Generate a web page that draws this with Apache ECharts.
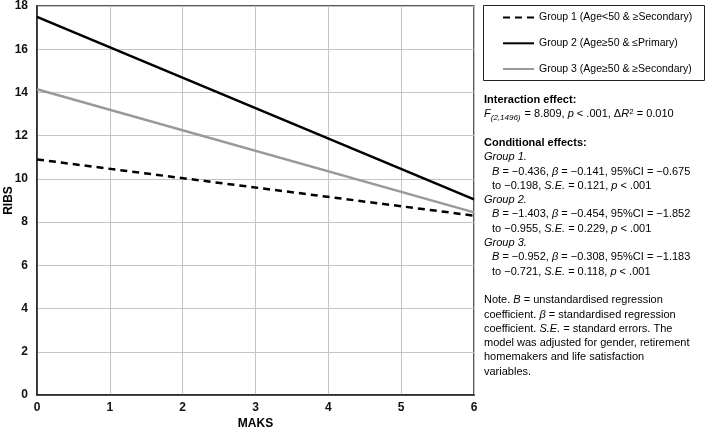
<!DOCTYPE html>
<html>
<head>
<meta charset="utf-8">
<script src="https://cdn.jsdelivr.net/npm/echarts@6/dist/echarts.min.js"></script>
<style>
html,body{margin:0;padding:0;background:#fff;}
#chart{width:709px;height:430px;}
</style>
</head>
<body>
<div id="chart"></div>
<script>
// ---- data ----
const xPoints = [0, 6];
const group1 = [10.9, 8.3];
const group2 = [17.5, 9.05];
const group3 = [14.15, 8.45];
const seriesNames = [
  'Group 1 (Age<50 & ≥Secondary)',
  'Group 2 (Age≥50 & ≤Primary)',
  'Group 3 (Age≥50 & ≥Secondary)'
];
const xTicks = [0, 1, 2, 3, 4, 5, 6];
const yTicks = [0, 2, 4, 6, 8, 10, 12, 14, 16, 18];
const xTitle = 'MAKS';
const yTitle = 'RIBS';
// annotation lines: [indent, richText]
const noteLines = [
  [0, '{b|Interaction effect:}'],
  [0, '{i|F}{sub|(2,1496)}{n| = 8.809, }{i|p}{n| < .001, Δ}{i|R}{sup|2}{n| = 0.010}'],
  null,
  [0, '{b|Conditional effects:}'],
  [0, '{i|Group 1.}'],
  [1, '{i|B}{n| = −0.436, }{i|β}{n| = −0.141, 95%CI = −0.675}'],
  [1, '{n|to −0.198, }{i|S.E.}{n| = 0.121, }{i|p}{n| < .001}'],
  [0, '{i|Group 2.}'],
  [1, '{i|B}{n| = −1.403, }{i|β}{n| = −0.454, 95%CI = −1.852}'],
  [1, '{n|to −0.955, }{i|S.E.}{n| = 0.229, }{i|p}{n| < .001}'],
  [0, '{i|Group 3.}'],
  [1, '{i|B}{n| = −0.952, }{i|β}{n| = −0.308, 95%CI = −1.183}'],
  [1, '{n|to −0.721, }{i|S.E.}{n| = 0.118, }{i|p}{n| < .001}'],
  null,
  [0, '{n|Note. }{i|B}{n| = unstandardised regression}'],
  [0, '{n|coefficient. }{i|β}{n| = standardised regression}'],
  [0, '{n|coefficient. }{i|S.E.}{n| = standard errors. The}'],
  [0, '{n|model was adjusted for gender, retirement}'],
  [0, '{n|homemakers and life satisfaction}'],
  [0, '{n|variables.}']
];

const FONT = '"Liberation Sans", Arial, sans-serif';
const chart = echarts.init(document.getElementById('chart'), null, {renderer: 'canvas'});

const FS = 11;
const rich = {
  n: {fontSize: FS, fontFamily: FONT, fill: '#000', lineHeight: 14, verticalAlign: 'middle'},
  i: {fontSize: FS, fontFamily: FONT, fill: '#000', fontStyle: 'italic', lineHeight: 14, verticalAlign: 'middle'},
  b: {fontSize: FS, fontFamily: FONT, fill: '#000', fontWeight: 'bold', lineHeight: 14, verticalAlign: 'middle'},
  sub: {fontSize: 8, fontFamily: FONT, fill: '#000', fontStyle: 'italic', lineHeight: 7, verticalAlign: 'bottom', padding: [0, 1, 0, 0]},
  sup: {fontSize: 8, fontFamily: FONT, fill: '#000', lineHeight: 8, verticalAlign: 'top'}
};

const graphics = [
  {type: 'rect', shape: {x: 483.5, y: 5.5, width: 221, height: 75},
   style: {fill: 'none', stroke: '#222', lineWidth: 1}, z: 1}
];
const L = 14.3;
noteLines.forEach((ln, k) => {
  if (!ln) return;
  graphics.push({
    type: 'text',
    x: 484 + ln[0] * 8,
    y: 100 + k * L,
    style: {text: ln[1], rich: rich, verticalAlign: 'middle', align: 'left',
            fontSize: FS, fontFamily: FONT, fill: '#000'}
  });
});

const mk = (name, vals, color, type) => ({
  name: name,
  type: 'line',
  data: xPoints.map((x, j) => [x, vals[j]]),
  symbol: 'none',
  lineStyle: {color: color, width: 2.5, type: type},
  itemStyle: {color: color},
  animation: false
});

chart.setOption({
  animation: false,
  backgroundColor: '#fff',
  textStyle: {fontFamily: FONT},
  grid: {left: 37, right: 235, top: 6, bottom: 35, show: true,
         outerBoundsMode: 'none', containLabel: false,
         borderColor: '#222', borderWidth: 1.5, backgroundColor: 'transparent'},
  legend: {
    orient: 'vertical', left: 502, top: 12,
    itemWidth: 31, itemHeight: 14, itemGap: 14.5,
    padding: 0,
    itemStyle: {opacity: 0},
    textStyle: {fontSize: 10.5, color: '#000', fontFamily: FONT},
    data: seriesNames
  },
  xAxis: {
    type: 'value', min: xTicks[0], max: xTicks[xTicks.length - 1], interval: 1,
    name: xTitle, nameLocation: 'middle', nameGap: 23, nameMoveOverlap: false,
    nameTextStyle: {fontSize: 12, fontWeight: 'bold', color: '#000', fontFamily: FONT},
    axisLine: {lineStyle: {color: '#222', width: 1.5}},
    axisTick: {show: false},
    axisLabel: {fontSize: 12, fontWeight: 'bold', color: '#111', margin: 7, fontFamily: FONT},
    splitLine: {lineStyle: {color: '#c4c4c4', width: 1}}
  },
  yAxis: {
    type: 'value', min: yTicks[0], max: yTicks[yTicks.length - 1], interval: 2,
    name: yTitle, nameLocation: 'middle', nameGap: 22, nameRotate: 90, nameMoveOverlap: false,
    nameTextStyle: {fontSize: 12, fontWeight: 'bold', color: '#000', fontFamily: FONT},
    axisLine: {show: true, lineStyle: {color: '#222', width: 1.5}},
    axisTick: {show: false},
    axisLabel: {fontSize: 12, fontWeight: 'bold', color: '#111', margin: 9, fontFamily: FONT},
    splitLine: {lineStyle: {color: '#c4c4c4', width: 1}}
  },
  graphic: graphics,
  series: [
    mk(seriesNames[0], group1, '#000', [7, 5]),
    mk(seriesNames[1], group2, '#000', 'solid'),
    mk(seriesNames[2], group3, '#999', 'solid')
  ]
});
</script>
</body>
</html>
